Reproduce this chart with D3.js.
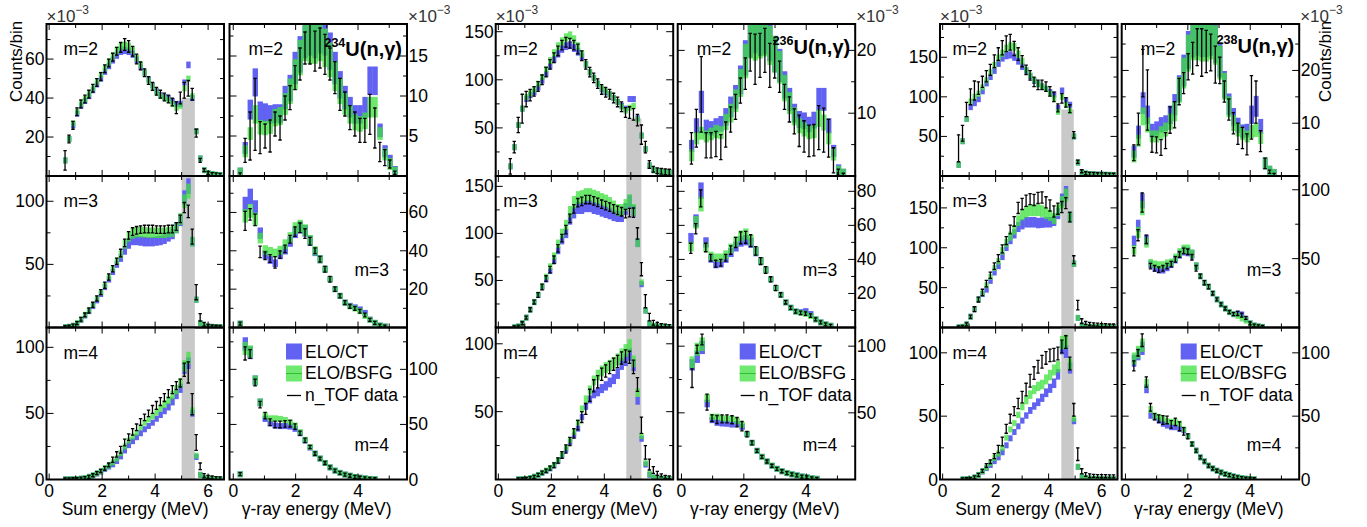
<!DOCTYPE html>
<html lang="en">
<head>
<meta charset="UTF-8" />
<title>U(n,gamma) multiplicity spectra</title>
<script src="https://d3js.org/d3.v7.min.js"></script>
<style>
  body { margin: 0; background: #fff; }
  text { font-family: "Liberation Sans", Arial, Helvetica, sans-serif; }
</style>
</head>
<body>
<svg width="1367" height="527"></svg>
<script>
// ---- values (x10^-3 counts/bin) ----
// sum-energy spectra: bins of 0.15 MeV; gamma spectra: bin start/width per panel below

// 234U
var u234_sum2_ct   = [8,19,26,32,36,38.5,41,44,47,50,53.5,56.5,59.5,62,64,64.5,64,62.5,59.5,56,53,49.5,46.5,43.5,41.5,40.5,40,38.5,37,37,48,57,40,23,9,3,1.5,1,0.6,0.5];
var u234_sum2_bsfg = [8,19,27,33,37,39.5,42,45,48.5,52,55.5,58.5,61.5,64.5,66.5,67,66.5,64.5,60.5,57,53,49,46,43,41,40,39,37,35,36,45,50,41,23,9,3,1.5,1,0.6,0.5];
var u234_sum2_data = [8,19,26,33,37,39.5,42,45,48,51,55,58,61,64,66,67.5,66.5,64,60,56.5,53,49,46,43.5,42,40.5,39.5,38,35,40,44,45,42,22,8,3,1.5,1,0.8,0.6];
var u234_sum2_err  = [5,2,2,2,2,2,2,2,2,2,2,2,2,2,2.5,3,3,2.5,2.5,2,2,2,2,2,2,2,2,2,3,3,4,4,3,2,1,0.6,0.5,0.4,0.3,0.3];

var u234_gam2_ct   = [0.3,3.5,8.3,11.7,8.1,7.9,7.7,7.8,7.8,9.8,11,13.5,15.2,17.3,17.7,17.3,18,17.7,15.6,13.5,11.4,9.8,8.6,7.7,7.7,8.6,11.9,11.9,5.7,3.1,1.9,0.5];
var u234_gam2_bsfg = [0.3,3.1,5.3,7.7,6.1,6,6.2,7.3,7.5,9,10.6,12.7,14.8,16.9,16.5,16.5,16.9,16,14.5,12.5,10.6,9,7.7,6.7,6.5,6.9,8.6,8.6,5.3,2.7,1.5,0.4];
var u234_gam2_data = [0.2,3.2,5,7.7,4.8,5,5,6.5,6,8.5,9.8,12.3,14,16,16.5,15.6,16,15.2,14,12.3,10.2,9,7.3,6.5,5.7,5.7,7.7,6,3,2.3,1.5,0.4];
var u234_gam2_err  = [0.1,1.5,3,4.5,2,1.5,2,1.5,1.5,1.5,1.5,1.5,2,2,2.5,2.5,2.5,2.5,2,2,2,1.5,1.5,1.5,1.5,1.5,2.5,2.5,1.2,1,0.5,0.2];

var u234_sum3_ct   = [0.2,0.5,1.3,3.2,6,9.5,13,17,21.5,26.5,32,38,44,50,55,61,66,69,69,68.5,68,68,68,68.5,69,70,72,74,79,85,103,112,68,22,3.5,1,0.6,0.5,0.4,0.4];
var u234_sum3_bsfg = [0.2,0.5,1.4,3.4,6.3,10,13.5,18,23,28,33.5,40,46.5,52.5,58,66,72,74.5,75.5,75.5,75.5,75,75,75,75,75,75.5,76,79,86,100,108,68,22,3.5,1,0.6,0.5,0.4,0.4];
var u234_sum3_data = [0.3,0.6,1.5,3.5,6.5,10,13.5,18,23,28,33.5,40,46.5,52.5,59,67,73,76,77,77.5,78,78,78,77.5,77.5,77.5,78,78,80,86,95,92,72,28,8,2.5,1.2,0.8,0.6,0.5];
var u234_sum3_err  = [0.3,0.3,0.5,1,1.5,1.5,2,2,2,2,2.5,2.5,2.5,2.5,3,3,3,3,3,3,3,3,3,3,3,3,3,3,3,3,4,5,6,6,3,1.5,0.8,0.5,0.4,0.4];

var u234_gam3_ct   = [2,64.3,68.3,62.6,49.2,37.9,35.3,33.5,37.9,40.5,44.8,49.6,52.2,50.4,45.2,39.6,35.6,30.4,25.2,20,16.5,13,11.3,10.5,9.4,7.6,4.1,2.4,1,0.5];
var u234_gam3_bsfg = [2,58.2,60.8,56.5,46.6,40.5,39.6,38.8,40.2,43.4,46.9,51.8,53,50.8,45.5,40,35.6,30.4,25.2,20,16.5,13,11,9.9,8.5,6,4,2.4,1,0.5];
var u234_gam3_data = [2,55.6,59,56.1,39.4,37.4,36,34,38,41,46,50,52,49,45,40,35.6,30.4,25.2,20,16.5,13,11,9.9,8.5,6.5,4,2.4,1,0.5];
var u234_gam3_err  = [0.5,5,3,3,3,2,2,3,2,2,2,2.5,2.5,2.5,2,1.5,1.5,1.5,1.5,1.2,1,1,1,1,1,1,0.8,0.5,0.3,0.2];

var u234_sum4_ct   = [0.1,0.1,0.2,0.3,0.6,1,2,3,4.5,6,8,9.8,11.5,14,17.5,22,26,29,32,35,38,40.5,43,46,49,52,55,59,64,69,84,88,50,17,3.5,1,0.5,0.3,0.3,0.2];
var u234_sum4_bsfg = [0.1,0.1,0.2,0.3,0.6,1,2,3.1,4.7,6.3,8.5,10.5,13,16,20,25,29.5,32.5,35.5,39.5,43,45.5,48,51,54,57,60,64,68,73,86,92,52,18,3.5,1,0.5,0.3,0.3,0.2];
var u234_sum4_data = [0.1,0.1,0.2,0.3,0.6,1,2,3.2,4.8,6.5,8.5,11,15,19,22.5,28,32,36,39.5,43.5,47,50,53,56,59,62,65,68,71,73,83,81,57,28,10,3,2,1.5,1,0.8];
var u234_sum4_err  = [0.1,0.1,0.1,0.2,0.3,0.5,0.7,1,1,1.2,1.5,1.5,2,2,2.5,2.5,2.5,2.5,2.5,2.5,2.5,2.5,3,3,3,3,3,3,3,3,5,8,8,6,2.5,1.5,1,0.8,0.6,0.5];

var u234_gam4_ct   = [4.8,123,115,90,70,55,51,49,48.5,48.5,48,46,42,35.5,29,23.5,19,15,11,8,6,4.5,3.4,2.3,1.6,1,0.5,0.3];
var u234_gam4_bsfg = [4.8,119,116,90,70,58,55.5,55.5,55,54,52,49,43,36,29.5,23.5,19,15,11,8,6,4.5,3.4,2.3,1.6,1,0.5,0.3];
var u234_gam4_data = [4.8,114.5,114,88,68,58,52,50,50,50.5,50.6,48,42,35.5,29.5,23.5,19,15,11,8,6,4.5,3.4,2.3,1.6,1,0.5,0.3];
var u234_gam4_err  = [1,6,4,3,3,3,3,3,3,3,3,2.5,2,2,1.5,1.5,1,1,1,0.8,0.6,0.5,0.4,0.3,0.3,0.2,0.1,0.1];

// 236U
var u236_sum2_ct   = [10,30,53,70,80,84,87,92,99,106,114,121,127,132,135,136,133,129,124,116,108,102,96,90,87,85,81,77,73,70,80,80,60,42,28,11,6,5,4.5,4,3.8];
var u236_sum2_bsfg = [10,30,53,70,82,86,90,96,103,111,120,128,135,140,144,146,142,135,127,116,108,102,96,91,88,85,81,77,72,68,71,73,59,42,28,11,6,5,4.5,4,3.8];
var u236_sum2_data = [10,30,53,70,80,84,88,93,100,108,116,123,130,136,139,138,136,132,125,116,108,102,96,90,87,85,81,77,72,66,66,64,58,43,30,12,7,5.5,5,4.5,4];
var u236_sum2_err  = [8,6,8,15,8,6,5,5,5,5,5,5,5,5,5,5,5,5,5,5,5,5,5,5,5,5,5,5,5,5,6,6,6,10,6,4,3,3,3,3,3];

var u236_gam2_ct   = [4.8,8,11.8,7.8,7.6,8,8.3,9.4,11,12.6,15.3,18.8,22.2,23,22.5,22.8,21.5,19.4,17.6,14.5,12.2,10,9,8.8,8.2,8.9,12.2,12.2,8,4,0.9,0.2];
var u236_gam2_bsfg = [3.3,6,6.8,6.3,6.7,7.1,6.9,8.6,10,12,14.8,18.3,22,21.6,22,22.4,20.8,19.4,17.3,14,11.6,9.5,8,7.4,6.9,7.1,9.2,8.5,6,3.4,0.7,0.2];
var u236_gam2_data = [4.4,7.6,13,4.9,4.9,5.1,4.6,6.6,9,11,13.6,16.3,19.7,18.6,19.2,20,17.6,18.6,15.8,12.6,10.6,8.7,7.2,6.3,5.6,5.7,7.7,7.3,6,2.5,0.6,0.2];
var u236_gam2_err  = [2.5,3,6,2,2,2,2,2,2,2,2,2.5,3,4,3.5,3.5,3.5,3,2.5,2,2,2,2.5,2.5,2.5,2.5,3.5,3.5,3,2,0.5,0.1];

var u236_sum3_ct   = [0.2,1,4.5,10.5,19,27,34.5,43,51,60,71,82,93,100,115,122,127,127,129,129,127,126,124,122.5,121,119,118,118,126,134,124,90,46,18,4,1.5,1,0.8,0.6,0.5];
var u236_sum3_bsfg = [0.2,1,4.5,10.5,19,27,35,44,54,65,76,89,100,109,123,133,138,139,141,141,139.5,138,136,134.5,132,128.5,125,125,130,135,125,90,48,18,4,1.5,1,0.8,0.6,0.5];
var u236_sum3_data = [0.2,1,4.5,10.5,19,27,34.5,43,52,61.5,72,84,95,104,116,126,132.6,134,136,136,134.5,133,131,129.5,128,126,124.5,123,121,122,122,100,62,28,11,5,3.5,2.5,2,1.5];
var u236_sum3_err  = [0.3,0.5,1,1.5,2,2,2.5,3,3,3.5,4,4,4,4.5,4.5,4.5,4.5,4.5,4.5,4.5,4.5,4.5,4.5,4.5,4.5,4.5,4.5,4.5,4.5,4.5,5,6,7,7,4,2.5,2,1.5,1.2,1];

var u236_gam3_ct   = [52.4,62.7,80.4,50,40.5,37,37.5,40.4,44,47.5,50.5,51.3,49.8,44.5,39,33.8,28.3,23.2,19.2,14.8,11.6,9.4,9,9.6,7.9,4.8,3,1.8,1];
var u236_gam3_bsfg = [47.5,61.8,72.5,47,42,41,41,42.8,46.5,50.5,53.8,54.9,51.3,45,39,33.8,28.3,23.2,19.2,14.8,11.6,9.4,8.6,8,6.7,4.8,3,1.8,1];
var u236_gam3_data = [46.5,58,75.9,47,41,37.5,38,41,45.5,50,52.7,53,51,45,39,33.8,28.3,23.2,19.2,14.8,11.6,9.4,8.6,8.2,7,4.8,3,1.8,1];
var u236_gam3_err  = [3,3,5,2.5,2,2,2,2,2.5,3,3.5,3.5,3.5,2.5,2,2,1.5,1.5,1.2,1,1,1,1,1,1,0.6,0.5,0.3,0.2];

var u236_sum4_ct   = [0,0.1,0.2,0.4,1,2,3.3,4.8,6.3,8.2,10.3,13.5,17.5,22,27.5,32.5,37.5,46,54,59,63,64.5,67,69,71.5,74,78,85,88,92,84,58,30,11,3.5,1.5,1,0.6,0.4,0.3];
var u236_sum4_bsfg = [0,0.1,0.2,0.4,1,2,3.4,5,6.6,8.5,10.8,14.3,18.5,23.5,29,35,42,52,59,66,73,77,80,82.5,84,86,88.5,92,95,98.5,87,64,32,12,4,1.5,1,0.6,0.4,0.3];
var u236_sum4_data = [0,0.1,0.2,0.4,1,2,3.4,5,6.5,8.4,10.5,14,18,22.5,28,34,40,46,52,62,69,72,77.5,80,82.5,85,87,89.5,91,90,83,70,40,20,11,7,4.5,3,2,1.5];
var u236_sum4_err  = [0,0.1,0.1,0.2,0.4,0.6,0.8,1,1.2,1.5,1.8,2,2.5,3,3,3.5,3.5,4,4,4.5,4.5,4.5,4.5,4.5,4.5,4.5,4.5,4.5,4.5,4.5,5,5,6,5,4,2.5,1.5,1,0.8,0.6];

var u236_gam4_ct   = [86,92,99,57,44.5,42.5,42,41.8,41.2,41.5,39.5,34,27.5,21.5,17,13.5,10.3,8,6.2,4.8,3.9,3.1,2.2,1.6,0.9,0.5];
var u236_gam4_bsfg = [88,97.7,101.5,61,47,47,46,45.5,45.5,44,41,34,27.5,21.5,17,13.5,10.3,8,6.2,4.8,3.9,3.1,2.2,1.6,0.9,0.5];
var u236_gam4_data = [76,97.7,105,58,46,45,45.5,45.5,44.8,43,40,34,27.5,21.5,17,13.5,10.3,8,6.2,4.8,3.9,3.1,2.2,1.6,0.9,0.5];
var u236_gam4_err  = [7,3,4,6,2.5,3,3,3,3,3.5,3.5,2,1.5,1.2,1,1,0.8,0.7,0.6,0.5,0.4,0.4,0.3,0.3,0.2,0.1];

// 238U
var u238_sum2_ct   = [14,44,72,87,92,97,107,117,125,133,142,149,152,153,150,145,138,133,126,120,116,113,110,106,103,86,108,96,90,50,17,5,3,2.5,2,1.8,1.6,1.5,1.4,1.3];
var u238_sum2_bsfg = [14,44,72,94,100,104,112,121,131,140,149,155,161,164,163,154,145,134,127,121,116,113,110,104,98,81,100,90,82,50,17,5,3,2.5,2,1.8,1.6,1.5,1.4,1.3];
var u238_sum2_data = [35,54,84,100,108,111,119,126,134,145,154,162,167,169,161,154,145,134,127,119,115,115,113,107,100,86,98,93,85,52,18,6,3.5,2.8,2.5,2.2,2,2,1.8,1.6];
var u238_sum2_err  = [17,10,9,10,12,8,7,7,7,8,8,9,10,10,9,8,7,6,6,6,6,6,6,6,6,5,6,6,5,4,2,1.5,1,1,0.8,0.8,0.8,0.8,0.8,0.8];

var u238_gam2_ct   = [4.6,8.3,13.8,11.6,8.6,9,9.7,10,11.6,13.5,16.6,20,23.9,26.4,26.8,26.5,26.5,26.8,25.2,22,17.3,13.6,11.2,9.6,8.5,8.6,11.6,13.2,9.4,2.4,0.8,0.2];
var u238_gam2_bsfg = [3.7,6.7,11.3,9.7,7.5,7.5,8.2,8.8,10.3,12.2,16.3,19.5,23.3,25.8,25.8,25.5,25.5,26,24.8,21.5,17,13.1,10,8.8,8,7.5,8.4,8.7,7.2,2.4,0.8,0.2];
var u238_gam2_data = [4.4,8.9,19.5,14.4,6,5.9,5.4,6.7,10.6,11.6,16,17.6,20.7,22.3,24.4,23.4,23.6,23.4,21.1,20,16,12.6,10,8,7.2,6,13,14,6.6,2.4,0.8,0.2];
var u238_gam2_err  = [1.5,3,4.5,5.7,1.5,1.5,1.5,1.5,2.5,2.5,2.5,2,2.5,3,3.5,4.5,4,3.5,3.5,2.5,2,2,2,2,2,2,6,4,2,1,0.3,0.1];

var u238_sum3_ct   = [0.2,0.8,4,13.5,23,35,42,47.5,58.5,69,77,89,101,110,117.5,126,129.5,132,132,132,131,131.5,132,132,134,143,160,169,138.5,80,12,2.5,1,0.8,0.6,0.5,0.5,0.4,0.4,0.4];
var u238_sum3_bsfg = [0.2,0.8,4,13.5,23,35,43,53,63.5,74.5,83,96,106,114.5,122.5,134,141.5,145,147,147,147,146,143,140.5,136.5,147,157,166,138.5,80,12,2.5,1,0.8,0.6,0.5,0.5,0.4,0.4,0.4];
var u238_sum3_data = [0.2,0.8,4,13.5,23,35,44,55,65.5,77,87,98.5,109,123,133,150,155,159,161,160,162.5,163,157,153,145.5,149,151,156,138.5,85,28,8,5.5,4.5,4,3.5,3,3,2.5,2.5];
var u238_sum3_err  = [0.3,0.5,1,2,3,3,4,4,4,4,4.5,5,5,5.5,6,7,7,7,7,7,7,7,7,7,7,7,7,7,6,5,6,3,2,1.5,1.5,1.5,1.2,1.2,1.2,1.2];

var u238_gam3_ct   = [62.9,73.8,92,63.6,45.9,43,41.7,41.7,43.5,45.9,49.5,53.2,55.6,55,53.2,44.6,37.3,32.5,29.6,24.8,20.4,16.8,13.8,11.2,9.7,10.2,9.5,6.1,3,1.4,0.8,0.4];
var u238_gam3_bsfg = [56.3,69,86.7,61.7,47,45.9,45.4,45.4,46.6,47.2,50.7,54.4,56.8,56.8,53.5,44.6,37.3,32.5,29.6,24.8,20.4,16.8,13.8,11.2,9.7,8.5,6.6,5,3,1.4,0.8,0.4];
var u238_gam3_data = [55,67,90.8,64,44.6,43,42,43,44.6,46,49.5,53,55.6,55,51,43,37.3,32.5,29.6,24.8,20.4,16.8,13.8,11.2,9.7,10.2,9,7,3,1.4,0.8,0.4];
var u238_gam3_err  = [3,4,7,3,2,2,2,2,2,2,2,2,2,2,2,2,1.5,1.5,1.5,1.2,1,1,1,1,1,1.5,1.5,1,0.5,0.4,0.3,0.2];

var u238_sum4_ct   = [0,0.1,0.2,0.3,1.5,3.5,6.3,9,11.5,14.5,17.5,21.5,27,32.5,37.5,42,46.5,50.5,54.5,58,61,64.5,68.5,72,76,83,104,101,88,46,10,2.5,1,0.6,0.5,0.4,0.4,0.3,0.3,0.3];
var u238_sum4_bsfg = [0,0.1,0.2,0.3,1.6,3.6,6.6,9.5,13,17,20.5,25,33,39.5,44.5,51,57.5,62.5,67,71,73.5,75,79,82.5,86.5,89,108,109,91,48,10,2.5,1,0.6,0.5,0.4,0.4,0.3,0.3,0.3];
var u238_sum4_data = [0,0.1,0.2,0.3,1.6,3.7,6.8,11,14,18.5,24,30,40,48,54,60,65,71,78,84,89,93,96,98,98.5,99.5,105,108.5,91.6,55,20,6.5,4,3,2.8,2.7,2.6,2.6,2.5,2.5];
var u238_sum4_err  = [0,0.1,0.1,0.2,0.5,0.8,1,1.5,1.5,2,3,3.5,3.5,3.5,3.5,4,4.5,5,5,5,5,5,5,5,5,5,5,5,5,5,5,2,1.5,1.5,1.2,1.2,1.2,1.2,1.2,1.2];

var u238_gam4_ct   = [93.7,99,103.5,71.7,50.5,49.2,46.6,44,42.6,41.3,41.3,40,38.8,34.3,28,22.8,17.5,14.3,10.9,8.7,6.9,5.6,4.3,3.4,2.4,1.6,1.1,0.6,0.4,0.2];
var u238_gam4_bsfg = [95.5,100.5,106,75.7,55.3,50.5,49.2,48,46,45.5,45.5,44,39.6,34.3,28,22.8,17.5,14.3,10.9,8.7,6.9,5.6,4.3,3.4,2.4,1.6,1.1,0.6,0.4,0.2];
var u238_gam4_data = [89.7,100,110,77,57,49.5,48,47,47,43.5,45.5,42,38,34,28,22.8,17.5,14.3,10.9,8.7,6.9,5.6,4.3,3.4,2.4,1.6,1.1,0.6,0.4,0.2];
var u238_gam4_err  = [4,2.5,5,4,3,2.5,3,3.5,3,3,3,3.5,3,2,1.5,1.2,1,1,0.8,0.6,0.5,0.5,0.4,0.4,0.3,0.3,0.2,0.2,0.1,0.1];

var isotopes = ["234", "236", "238"];
var multiplicities = [2, 3, 4];
// grey band of the sum-energy window (MeV) and its height in the m=2 row
var greyWindow = [[5.0, 5.5], [4.83, 5.4], [4.48, 4.95]];
var greyTopM2 = [40, 60, 84];
var legendLabels = ["ELO/CT", "ELO/BSFG", "n_TOF data"];

// ---- layout ----
var sumLeft = [46.5, 495.7, 940];
var gamLeft = [229.5, 677.7, 1121.7];
var panelW = 177.5;
var rowTop = [24, 176, 327.5];
var rowBot = [176, 327.5, 479.5];
var mOffset = [17, 7.5, 12.5];
var legendOffset = [56.5, 62, 59];
var titleBase = [56, 54, 53];

var BLUE = "#6161f2", GREEN = "#3fe03f";

function P(g, r, kind, x0, dx, ymax, major, minor, zero, band, minH, ct, bsfg, data, err) {
  return {g: g, r: r, kind: kind, x0: x0, dx: dx, ymax: ymax, major: major, minor: minor,
          zero: zero, band: band, minH: minH, ct: ct, bsfg: bsfg, data: data, err: err};
}

var panels = [
  P(0, 0, "sum", 0.6, 0.15, 78, 20, 10, false, 0.03, 3, u234_sum2_ct, u234_sum2_bsfg, u234_sum2_data, u234_sum2_err),
  P(0, 0, "gam", 0.22, 0.16, 19, 5, 2.5, false, 0.15, 6, u234_gam2_ct, u234_gam2_bsfg, u234_gam2_data, u234_gam2_err),
  P(0, 1, "sum", 0.6, 0.15, 120, 50, 25, false, 0.055, 3, u234_sum3_ct, u234_sum3_bsfg, u234_sum3_data, u234_sum3_err),
  P(0, 1, "gam", 0.22, 0.16, 79, 20, 10, false, 0.06, 3, u234_gam3_ct, u234_gam3_bsfg, u234_gam3_data, u234_gam3_err),
  P(0, 2, "sum", 0.6, 0.15, 115, 50, 25, true, 0.05, 3, u234_sum4_ct, u234_sum4_bsfg, u234_sum4_data, u234_sum4_err),
  P(0, 2, "gam", 0.22, 0.16, 138, 50, 25, true, 0.05, 3, u234_gam4_ct, u234_gam4_bsfg, u234_gam4_data, u234_gam4_err),

  P(1, 0, "sum", 0.45, 0.15, 158, 50, 25, false, 0.03, 3, u236_sum2_ct, u236_sum2_bsfg, u236_sum2_data, u236_sum2_err),
  P(1, 0, "gam", 0.32, 0.157, 24.2, 10, 5, false, 0.15, 6, u236_gam2_ct, u236_gam2_bsfg, u236_gam2_data, u236_gam2_err),
  P(1, 1, "sum", 0.6, 0.15, 161, 50, 25, false, 0.05, 3, u236_sum3_ct, u236_sum3_bsfg, u236_sum3_data, u236_sum3_err),
  P(1, 1, "gam", 0.30, 0.16, 89, 20, 10, false, 0.06, 3, u236_gam3_ct, u236_gam3_bsfg, u236_gam3_data, u236_gam3_err),
  P(1, 2, "sum", 0.6, 0.15, 112, 50, 25, false, 0.05, 3, u236_sum4_ct, u236_sum4_bsfg, u236_sum4_data, u236_sum4_err),
  P(1, 2, "gam", 0.34, 0.16, 114, 50, 25, false, 0.05, 3, u236_gam4_ct, u236_gam4_bsfg, u236_gam4_data, u236_gam4_err),

  P(2, 0, "sum", 0.6, 0.15, 192, 50, 25, false, 0.03, 3, u238_sum2_ct, u238_sum2_bsfg, u238_sum2_data, u238_sum2_err),
  P(2, 0, "gam", 0.27, 0.145, 28.8, 10, 5, false, 0.15, 6, u238_gam2_ct, u238_gam2_bsfg, u238_gam2_data, u238_gam2_err),
  P(2, 1, "sum", 0.6, 0.15, 190, 50, 25, false, 0.05, 3, u238_sum3_ct, u238_sum3_bsfg, u238_sum3_data, u238_sum3_err),
  P(2, 1, "gam", 0.27, 0.133, 110, 50, 25, false, 0.06, 3, u238_gam3_ct, u238_gam3_bsfg, u238_gam3_data, u238_gam3_err),
  P(2, 2, "sum", 0.6, 0.15, 120, 50, 25, true, 0.05, 3, u238_sum4_ct, u238_sum4_bsfg, u238_sum4_data, u238_sum4_err),
  P(2, 2, "gam", 0.27, 0.133, 120, 50, 25, true, 0.05, 3, u238_gam4_ct, u238_gam4_bsfg, u238_gam4_data, u238_gam4_err)
];

var svg = d3.select("svg");
var defs = svg.append("defs");

panels.forEach(function (p, pi) {
  var left = p.kind === "sum" ? sumLeft[p.g] : gamLeft[p.g];
  var right = left + panelW;
  var top = rowTop[p.r], bot = rowBot[p.r];
  var x = d3.scaleLinear()
    .domain(p.kind === "sum" ? [-0.1, 6.6] : [-0.12, 5.57])
    .range([left, right]);
  var y = d3.scaleLinear().domain([0, p.ymax]).range([bot, top]);

  defs.append("clipPath").attr("id", "clip" + pi)
    .append("rect").attr("x", left).attr("y", top).attr("width", panelW).attr("height", bot - top);
  var g = svg.append("g").attr("clip-path", "url(#clip" + pi + ")");

  // grey sum-energy window
  if (p.kind === "sum") {
    var gw = greyWindow[p.g];
    var gTop = p.r === 0 ? y(greyTopM2[p.g]) : top;
    g.append("rect")
      .attr("x", x(gw[0])).attr("width", x(gw[1]) - x(gw[0]))
      .attr("y", gTop).attr("height", bot - gTop)
      .attr("fill", "#c9c9c9");
  }

  // model bands
  function boxes(vals, color, op) {
    g.append("g").selectAll("rect")
      .data(vals.map(function (v, i) { return {c: p.x0 + i * p.dx, v: v}; })
                .filter(function (d) { return d.v > 0; }))
      .join("rect")
      .attr("x", function (d) { return x(d.c - p.dx / 2); })
      .attr("width", function (d) { return x(d.c + p.dx / 2) - x(d.c - p.dx / 2) + 0.4; })
      .attr("y", function (d) {
        var h = Math.max(p.minH, y(0) - y(d.v * p.band));
        return y(d.v) - h;
      })
      .attr("height", function (d) {
        return 2 * Math.max(p.minH, y(0) - y(d.v * p.band));
      })
      .attr("fill", color)
      .attr("fill-opacity", op);
  }
  boxes(p.ct, BLUE, 1);
  boxes(p.bsfg, GREEN, 0.75);

  // n_TOF data with error bars
  var pts = p.data.map(function (v, i) {
    return {c: p.x0 + i * p.dx, v: v, e: p.err[i] || 0};
  }).filter(function (d) { return d.v > 0; });
  var eb = g.append("g").attr("stroke", "#000").attr("stroke-width", 1.3);
  pts.forEach(function (d) {
    var cx = x(d.c);
    var y1 = y(d.v + d.e), y2 = y(d.v - d.e);
    if (y2 - y1 < 3) { var m = y(d.v); y1 = m - 1.5; y2 = m + 1.5; }
    eb.append("line").attr("x1", cx).attr("x2", cx).attr("y1", y1).attr("y2", y2);
    eb.append("line").attr("x1", cx - 1.7).attr("x2", cx + 1.7).attr("y1", y1).attr("y2", y1);
    eb.append("line").attr("x1", cx - 1.7).attr("x2", cx + 1.7).attr("y1", y2).attr("y2", y2);
  });

  // ticks (inside, all four sides)
  var ax = svg.append("g").attr("stroke", "#000").attr("stroke-width", 1);
  var yt = d3.range(p.minor, p.ymax, p.minor);
  yt.forEach(function (v) {
    var isMajor = Math.abs(v / p.major - Math.round(v / p.major)) < 1e-6;
    var len = isMajor ? 7 : 4;
    ax.append("line").attr("x1", left).attr("x2", left + len).attr("y1", y(v)).attr("y2", y(v));
    ax.append("line").attr("x1", right - len).attr("x2", right).attr("y1", y(v)).attr("y2", y(v));
  });
  var xt = p.kind === "sum" ? [0, 1, 2, 3, 4, 5, 6] : [0, 1, 2, 3, 4, 5];
  xt.forEach(function (v) {
    var len = v % 2 === 0 ? 6 : 4;
    ax.append("line").attr("x1", x(v)).attr("x2", x(v)).attr("y1", bot).attr("y2", bot - len);
    ax.append("line").attr("x1", x(v)).attr("x2", x(v)).attr("y1", top).attr("y2", top + len);
  });

  // frame
  svg.append("rect")
    .attr("x", left).attr("y", top).attr("width", panelW).attr("height", bot - top)
    .attr("fill", "none").attr("stroke", "#000").attr("stroke-width", 2);

  // y tick labels: left for sum panels, right for gamma panels
  var labels = d3.range(p.zero ? 0 : p.major, p.ymax, p.major);
  svg.append("g").selectAll("text").data(labels).join("text")
    .attr("x", p.kind === "sum" ? left - 2 : right + 1.5)
    .attr("y", function (v) { return y(v) + 6; })
    .attr("text-anchor", p.kind === "sum" ? "end" : "start")
    .attr("font-size", 17.5)
    .text(function (v) { return d3.format("~g")(v); });

  // x tick labels and titles on the bottom row
  if (p.r === 2) {
    var xl = p.kind === "sum" ? [0, 2, 4, 6] : [0, 2, 4];
    svg.append("g").selectAll("text").data(xl).join("text")
      .attr("x", function (v) { return x(v); })
      .attr("y", 497)
      .attr("text-anchor", "middle")
      .attr("font-size", 17.5)
      .text(function (v) { return v; });
    svg.append("text")
      .attr("x", right - 15.5).attr("y", 515)
      .attr("text-anchor", "end")
      .attr("font-size", 17.5)
      .text(p.kind === "sum" ? "Sum energy (MeV)" : "\u03b3-ray energy (MeV)");
  }

  // x10^-3 on the top row
  if (p.r === 0) {
    var sc = svg.append("text")
      .attr("x", p.kind === "sum" ? left : right + 1)
      .attr("y", 22)
      .attr("fill", "#333")
      .attr("font-size", 17);
    sc.append("tspan").text("\u00d710");
    sc.append("tspan").attr("font-size", 12).attr("dy", -8).text("\u22123");
  }

  // multiplicity label
  var m = multiplicities[p.r];
  var mx, my;
  if (p.kind === "sum") { mx = left + mOffset[p.g]; my = top + 31; }
  else if (p.r === 0) { mx = left + 19; my = top + 31; }
  else { mx = left + 125; my = top + (p.r === 1 ? 100 : 123); }
  svg.append("text").attr("x", mx).attr("y", my).attr("font-size", 17.5).text("m=" + m);

  // reaction title
  if (p.kind === "gam" && p.r === 0) {
    var t = svg.append("text")
      .attr("x", right - 5).attr("y", titleBase[p.g])
      .attr("text-anchor", "end")
      .attr("font-weight", "bold");
    t.append("tspan").attr("font-size", 12.5).attr("dy", -9).text(isotopes[p.g]);
    t.append("tspan").attr("font-size", 20).attr("dy", 9).text("U(n,\u03b3)");
  }

  // legend
  if (p.kind === "gam" && p.r === 2) {
    var lx = left + legendOffset[p.g];
    var lg = svg.append("g");
    lg.append("rect").attr("x", lx).attr("y", top + 16).attr("width", 16).attr("height", 16).attr("fill", BLUE);
    lg.append("rect").attr("x", lx).attr("y", top + 38).attr("width", 16).attr("height", 16)
      .attr("fill", GREEN).attr("fill-opacity", 0.75);
    lg.append("line").attr("x1", lx).attr("x2", lx + 16).attr("y1", top + 46).attr("y2", top + 46)
      .attr("stroke", "#2fc02f").attr("stroke-width", 1);
    lg.append("line").attr("x1", lx + 1).attr("x2", lx + 15).attr("y1", top + 68).attr("y2", top + 68)
      .attr("stroke", "#000").attr("stroke-width", 1.3);
    lg.selectAll("text").data(legendLabels).join("text")
      .attr("x", lx + 19)
      .attr("y", function (d, i) { return top + 30 + i * 21.5; })
      .attr("font-size", 17.5)
      .text(function (d) { return d; });
  }
});

// y axis titles
svg.append("text")
  .attr("transform", "translate(21.5,102) rotate(-90)")
  .attr("font-size", 17)
  .text("Counts/bin");
svg.append("text")
  .attr("transform", "translate(1331,102) rotate(-90)")
  .attr("font-size", 17)
  .text("Counts/bin");
</script>
</body>
</html>
